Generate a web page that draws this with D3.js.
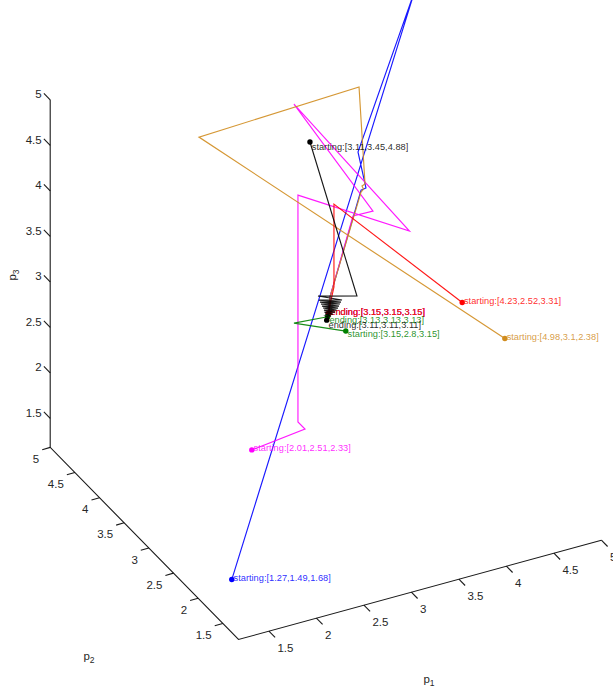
<!DOCTYPE html>
<html>
<head>
<meta charset="utf-8">
<script src="https://cdn.jsdelivr.net/npm/d3@7/dist/d3.min.js"></script>
<style>
html,body{margin:0;padding:0;background:#fff}
svg{display:block}
text{font-family:"Liberation Sans",Arial,sans-serif}
</style>
</head>
<body>
<svg id="chart" width="613" height="690"></svg>
<script>
// ---- data: [p1, p2, p3] along each iteration path ----
const axisDomain = [1.18, 5];
const tickValues = [1.5, 2, 2.5, 3, 3.5, 4, 4.5, 5];
const tickLabels = ["1.5", "2", "2.5", "3", "3.5", "4", "4.5", "5"];
const seriesNames = ["blue", "magenta", "goldenrod", "red", "green", "black"];

const bluePath = [[1.27,1.49,1.68],[4.06,3.15,6.444],[3.46,3.15,4.836],[3.544,3.15,4.416],[3.492,3.15,4.408],[3.165,3.15,3.326],[3.15,3.15,3.15]];
const goldenrodPath = [[4.98,3.1,2.38],[1.786,3.15,5.478],[3.471,3.15,5.547],[3.534,3.15,4.463],[3.502,3.15,4.45],[3.518,3.15,4.412],[3.492,3.15,4.386],[3.165,3.15,3.326],[3.15,3.15,3.15]];
const magentaPath = [[2.01,2.51,2.33],[2.902,3.15,1.951],[2.828,3.15,2.049],[2.828,3.15,4.543],[4.002,3.15,3.812],[2.786,3.15,5.555],[3.618,3.15,4.141],[3.407,3.15,4.147],[3.165,3.15,3.326],[3.15,3.15,3.15]];
const redPath = [[4.23,2.52,3.31],[3.207,3.15,4.336],[3.207,3.15,3.424],[3.176,3.15,3.29],[3.15,3.15,3.15]];
const greenPath = [[3.15,2.8,3.15],[2.786,3.15,3.148],[3.13,3.13,3.13]];
const blackPath = [[3.11,3.45,4.88],[3.449,3.15,3.256],[3.039,3.15,3.373],[3.292,3.15,3.257],[3.049,3.15,3.326],[3.281,3.15,3.238],[3.06,3.15,3.301],[3.271,3.15,3.219],[3.071,3.15,3.276],[3.26,3.15,3.2],[3.081,3.15,3.251],[3.249,3.15,3.181],[3.092,3.15,3.226],[3.234,3.15,3.163],[3.102,3.15,3.201],[3.218,3.15,3.146],[3.107,3.15,3.177],[3.197,3.15,3.13],[3.113,3.15,3.154],[3.176,3.15,3.114],[3.118,3.15,3.13],[3.155,3.15,3.098],[3.11,3.11,3.11]];

const paths = {blue: bluePath, goldenrod: goldenrodPath, magenta: magentaPath, red: redPath, green: greenPath, black: blackPath};

// ---- styles ----
const colors = {blue:"#0000ff", goldenrod:"#d08c1e", magenta:"#ff00ff", red:"#ff0000", green:"#008000", black:"#000000"};
const labelDy = {blue:-2, goldenrod:-2, magenta:-2, red:-2, green:3, black:5};

// ---- oblique 3D projection built from linear scales ----
const origin = {x:238.5, y:639.5};
const p1X = d3.scaleLinear(axisDomain, [0, 362.9]);
const p1Y = d3.scaleLinear(axisDomain, [0, -99.3]);
const p2X = d3.scaleLinear(axisDomain, [0, -188.3]);
const p2Y = d3.scaleLinear(axisDomain, [0, -192.1]);
const p3Y = d3.scaleLinear(axisDomain, [0, -347.6]);
const project = ([a,b,c]) => [origin.x + p1X(a) + p2X(b), origin.y + p1Y(a) + p2Y(b) + p3Y(c)];
const markShift = 3.5; // marks sit slightly below the axis box
const projectMark = d => { const [x,y] = project(d); return [x, y + markShift]; };

const svg = d3.select("#chart");
const lo = axisDomain[0], hi = axisDomain[1];
const line = d3.line();

// ---- axes ----
const axes = svg.append("g").attr("stroke","#000").attr("fill","none").attr("stroke-width",1.1).attr("stroke-opacity",0.9);
axes.append("path").attr("d", line([project([hi,lo,lo]), project([lo,lo,lo]), project([lo,hi,lo]), project([lo,hi,hi])]));

const tickLab = svg.append("g").attr("font-size","11.5px").attr("fill","#262626");

tickValues.forEach((v,i) => {
  // p1
  let p = project([v,lo,lo]);
  axes.append("path").attr("d", line([p,[p[0]+6.2,p[1]+6.3]]));
  tickLab.append("text").attr("x",p[0]+8.5).attr("y",p[1]+16.5).attr("dy","0.35em").text(tickLabels[i]);
  // p2
  p = project([lo,v,lo]);
  axes.append("path").attr("d", line([p,[p[0]-8,p[1]+2.3]]));
  tickLab.append("text").attr("x",p[0]-11).attr("y",p[1]+11.5).attr("dy","0.35em").attr("text-anchor","end").text(tickLabels[i]);
  // p3
  p = project([lo,hi,v]);
  axes.append("path").attr("d", line([p,[p[0]-6.3,p[1]-6.5]]));
  tickLab.append("text").attr("x",p[0]-8.5).attr("y",p[1]-5.5).attr("dy","0.35em").attr("text-anchor","end").text(tickLabels[i]);
});

// ---- axis titles ----
function title(x,y,sub,rot){
  const t = svg.append("text").attr("font-size","11.5px").attr("fill","#262626")
    .attr("text-anchor","middle")
    .attr("transform",`translate(${x},${y})` + (rot ? ` rotate(${rot})` : ""));
  t.append("tspan").text("p");
  t.append("tspan").attr("font-size","8.5px").attr("dy","3").text(sub);
}
title(429,683,"1");
title(89,660,"2");
title(16,275,"3",-90);

// ---- iteration paths, markers and labels ----
const fmt = d => `[${d.join(",")}]`;
const marks = svg.append("g");
seriesNames.forEach(name => {
  const data = paths[name], c = colors[name];
  const g = marks.append("g");
  g.append("path").attr("d", line(data.map(projectMark))).attr("fill","none").attr("stroke",c)
    .attr("stroke-width",1.15).attr("stroke-opacity",0.9);
  [data[0], data[data.length-1]].forEach((d,i) => {
    const [x,y] = projectMark(d);
    g.append("circle").attr("cx",x).attr("cy",y).attr("r",2.7).attr("fill",c);
    g.append("text").attr("x",x+1.8).attr("y",y+labelDy[name]).attr("dy","0.35em")
      .attr("font-size","9.25px").attr("fill",c).attr("fill-opacity",0.85)
      .text((i===0?"starting:":"ending:") + fmt(d));
  });
});
</script>
</body>
</html>
